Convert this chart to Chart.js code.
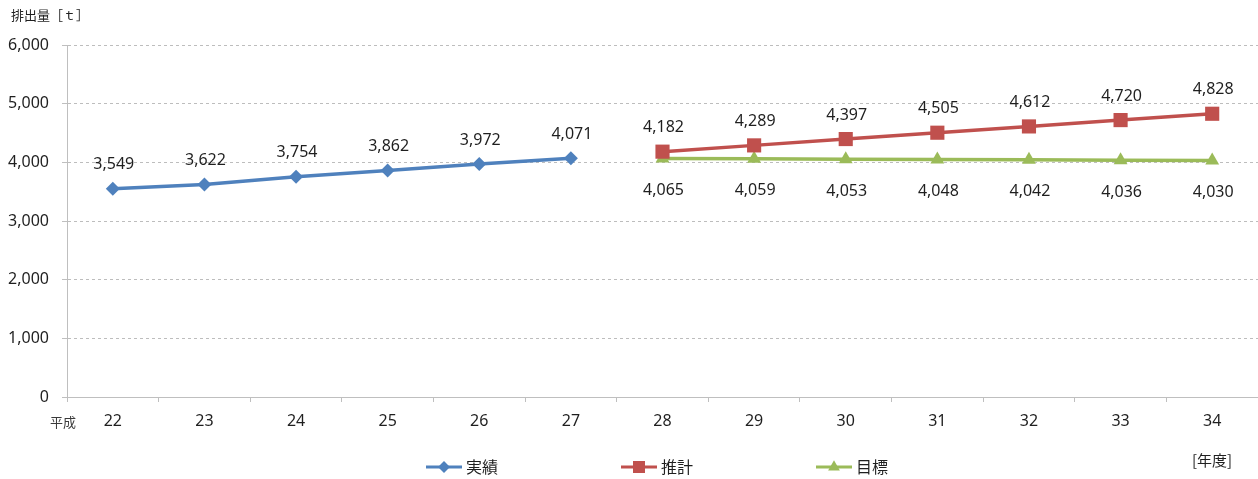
<!DOCTYPE html>
<html lang="ja">
<head>
<meta charset="utf-8">
<script src="https://cdn.jsdelivr.net/npm/chart.js@4/dist/chart.umd.min.js"></script>
<style>
  html, body { margin: 0; padding: 0; background: #fff; overflow: hidden; }
  #wrap { width: 1258px; height: 479px; position: relative; }
</style>
</head>
<body>
<div id="wrap"><canvas id="c"></canvas></div>
<script>
// 年度（平成）
const years = ['22', '23', '24', '25', '26', '27', '28', '29', '30', '31', '32', '33', '34'];
// 実績（平成22〜27年度）
const actual = [3549, 3622, 3754, 3862, 3972, 4071, null, null, null, null, null, null, null];
// 推計（平成28〜34年度）
const estimate = [null, null, null, null, null, null, 4182, 4289, 4397, 4505, 4612, 4720, 4828];
// 目標（平成28〜34年度）
const target = [null, null, null, null, null, null, 4065, 4059, 4053, 4048, 4042, 4036, 4030];
// 縦軸の目盛
const yTicks = [0, 1000, 2000, 3000, 4000, 5000, 6000];

const FONT = "'Noto Sans', 'Noto Sans CJK JP', sans-serif";
const JFONT = "'Noto Sans CJK JP', sans-serif";
const BLUE = '#4F81BD', RED = '#C0504D', GREEN = '#9BBB59';

const fmt = v => v.toLocaleString('en-US');

const series = [
  { label: '実績', data: actual, color: BLUE, style: 'rectRot', radius: 7, labelDy: -24 },
  { label: '推計', data: estimate, color: RED, style: 'rect', radius: 10, labelDy: -24 },
  { label: '目標', data: target, color: GREEN, style: 'triangle', radius: 8, labelDy: 32 }
];

// 値ラベル・軸見出し・凡例を描くプラグイン
const annotate = {
  id: 'annotate',
  afterDatasetsDraw(chart) {
    const ctx = chart.ctx;
    ctx.save();
    ctx.fillStyle = '#1f1f1f';
    ctx.font = '16px ' + FONT;
    ctx.textAlign = 'center';
    ctx.textBaseline = 'middle';
    chart.data.datasets.forEach((ds, i) => {
      const meta = chart.getDatasetMeta(i);
      const dy = series[i].labelDy;
      meta.data.forEach((pt, j) => {
        const v = ds.data[j];
        if (v == null) return;
        ctx.fillText(fmt(v), pt.x + 1, pt.y + dy);
      });
    });
    ctx.restore();
  },
  afterDraw(chart) {
    const ctx = chart.ctx;
    ctx.save();
    ctx.fillStyle = '#1f1f1f';
    ctx.textBaseline = 'middle';
    ctx.textAlign = 'left';
    ctx.font = '13px ' + JFONT;
    ctx.fillText('排出量［ｔ］', 11, 15);
    ctx.fillStyle = '#3a3a3a';
    ctx.fillText('平成', 50, 422);
    ctx.font = '15px ' + JFONT;
    ctx.fillStyle = '#1f1f1f';
    ctx.fillText('[年度]', 1192, 460);

    // 凡例（線＋マーカー）
    const items = [
      { s: series[0], x: 426 },
      { s: series[1], x: 621 },
      { s: series[2], x: 816 }
    ];
    const ly = 467;
    items.forEach(it => {
      ctx.strokeStyle = it.s.color;
      ctx.lineWidth = 3;
      ctx.beginPath();
      ctx.moveTo(it.x, ly);
      ctx.lineTo(it.x + 36, ly);
      ctx.stroke();
      ctx.fillStyle = it.s.color;
      Chart.helpers.drawPoint(ctx, {
        pointStyle: it.s.style,
        radius: it.s.radius * 0.85,
        borderWidth: 0,
        rotation: 0
      }, it.x + 18, ly);
      ctx.fillStyle = '#1f1f1f';
      ctx.font = '16px ' + JFONT;
      ctx.textAlign = 'left';
      ctx.fillText(it.s.label, it.x + 40, ly);
    });
    ctx.restore();
  }
};

new Chart(document.getElementById('c'), {
  type: 'line',
  data: {
    labels: years,
    datasets: series.map(s => ({
      label: s.label,
      data: s.data,
      borderColor: s.color,
      backgroundColor: s.color,
      borderWidth: 3.5,
      pointStyle: s.style,
      pointRadius: s.radius,
      pointHoverRadius: s.radius,
      pointBorderWidth: 0,
      pointBackgroundColor: s.color,
      tension: 0,
      spanGaps: false,
      clip: false
    }))
  },
  options: {
    responsive: true,
    maintainAspectRatio: false,
    animation: false,
    events: [],
    layout: { autoPadding: false, padding: { top: 45, right: 0, left: 0, bottom: 0 } },
    plugins: {
      legend: { display: false },
      tooltip: { enabled: false }
    },
    scales: {
      x: {
        type: 'category',
        offset: true,
        grid: {
          offset: true,
          drawOnChartArea: false,
          drawTicks: true,
          tickLength: 5,
          tickColor: '#bfbfbf'
        },
        border: { display: true, color: '#bfbfbf', width: 1 },
        ticks: {
          color: '#1f1f1f',
          font: { family: FONT, size: 16 },
          padding: 10,
          maxRotation: 0,
          autoSkip: false
        },
        afterFit(scale) {
          scale.height = 82;
          scale.paddingLeft = 0;
          scale.paddingRight = 0;
        }
      },
      y: {
        min: 0,
        max: 6000,
        afterBuildTicks(scale) { scale.ticks = yTicks.map(v => ({ value: v })); },
        grid: {
          color: '#bdbdbd',
          lineWidth: 1,
          drawTicks: true,
          tickLength: 5,
          tickColor: '#bfbfbf'
        },
        border: { display: true, color: '#bfbfbf', width: 1, dash: [3, 3] },
        ticks: {
          color: '#1f1f1f',
          font: { family: FONT, size: 16 },
          padding: 13,
          callback: v => fmt(v)
        },
        afterFit(scale) { scale.width = 67; }
      }
    }
  },
  plugins: [annotate]
});
</script>
</body>
</html>
